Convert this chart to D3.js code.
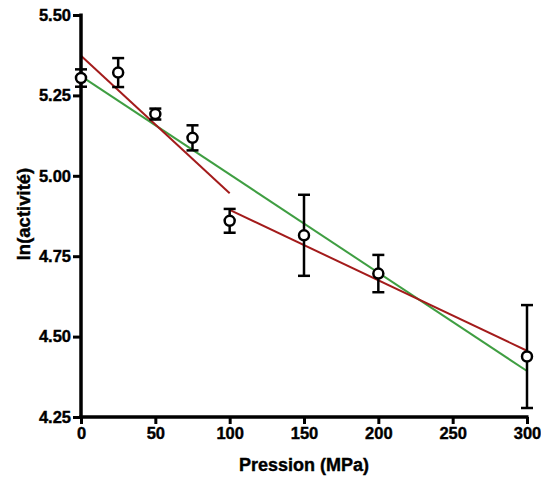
<!DOCTYPE html>
<html><head><meta charset="utf-8">
<script src="https://cdn.jsdelivr.net/npm/d3@7"></script>
<style>body{margin:0;background:#fff}svg{display:block}text{font-family:"Liberation Sans",Arial,sans-serif;font-weight:bold}</style>
</head><body>
<svg id="c" width="541" height="479"></svg>
<script>
const pressures = [0, 25, 50, 75, 100, 150, 200, 300];
const lnActivity = [5.304, 5.321, 5.192, 5.118, 4.860, 4.815, 4.696, 4.438];
const errors = [0.027, 0.045, 0.017, 0.039, 0.037, 0.126, 0.058, 0.160];
const greenFit = [[0, 5.310], [300, 4.393]];
const redFit1 = [[0, 5.373], [100, 4.946]];
const redFit2 = [[100, 4.894], [300, 4.456]];
const xTicks = [0, 50, 100, 150, 200, 250, 300];
const yTicks = [4.25, 4.50, 4.75, 5.00, 5.25, 5.50];

const svg = d3.select("#c");
const x = d3.scaleLinear().domain([0, 300]).range([81, 527]);
const y = d3.scaleLinear().domain([4.25, 5.50]).range([417, 15]);

const line = d3.line().x(d => x(d[0])).y(d => y(d[1]));
svg.append("path").attr("d", line(greenFit)).attr("stroke", "#3f9e42").attr("stroke-width", 2).attr("fill", "none");
svg.append("path").attr("d", line(redFit1)).attr("stroke", "#a31b1b").attr("stroke-width", 2).attr("fill", "none");
svg.append("path").attr("d", line(redFit2)).attr("stroke", "#a31b1b").attr("stroke-width", 2).attr("fill", "none");

// axes
const xAxis = svg.append("g").attr("transform", "translate(0,417)")
  .call(d3.axisBottom(x).tickValues(xTicks).tickSize(7).tickSizeOuter(0).tickPadding(3).tickFormat(d3.format("d")));
const yAxis = svg.append("g").attr("transform", "translate(81,0)")
  .call(d3.axisLeft(y).tickValues(yTicks).tickSize(8).tickSizeOuter(0).tickPadding(2).tickFormat(d3.format(".2f")));
[xAxis, yAxis].forEach(a => {
  a.select(".domain").attr("stroke", "#000").style("stroke-width", "3.5px");
  a.selectAll(".tick line").attr("stroke", "#000").style("stroke-width", "3px");
  a.selectAll("text").attr("fill", "#000").style("font-size", "16.5px").style("font-weight", "bold")
    .style("font-family", "'Liberation Sans', Arial, sans-serif").style("stroke", "#000").style("stroke-width", "0.4px");
});
xAxis.select(".domain").attr("d", `M${x(0)-1.75},0H${x(300)+1.5}`);
yAxis.select(".domain").attr("d", `M0,${y(4.25)+1.75}V${y(5.5)-1.5}`);

// error bars
const g = svg.append("g");
pressures.forEach((p, i) => {
  const cx = x(p), lo = y(lnActivity[i] - errors[i]), hi = y(lnActivity[i] + errors[i]);
  g.append("line").attr("x1", cx).attr("x2", cx).attr("y1", lo).attr("y2", hi).attr("stroke", "#000").attr("stroke-width", 2.5);
  [lo, hi].forEach(yy => g.append("line").attr("x1", cx - 6).attr("x2", cx + 6).attr("y1", yy).attr("y2", yy).attr("stroke", "#000").attr("stroke-width", 2.5));
});
g.selectAll("circle").data(pressures).enter().append("circle")
  .attr("cx", d => x(d)).attr("cy", (d, i) => y(lnActivity[i])).attr("r", 5)
  .attr("fill", "#fff").attr("stroke", "#000").attr("stroke-width", 2.5);

svg.append("text").attr("x", x(150)).attr("y", 471).attr("text-anchor", "middle").style("font-size", "18px")
  .style("stroke", "#000").style("stroke-width", "0.4px").text("Pression (MPa)");
svg.append("text").attr("transform", `translate(30,214) rotate(-90)`).attr("text-anchor", "middle").style("font-size", "18.5px")
  .style("stroke", "#000").style("stroke-width", "0.4px").text("ln(activité)");
</script>
</body></html>
